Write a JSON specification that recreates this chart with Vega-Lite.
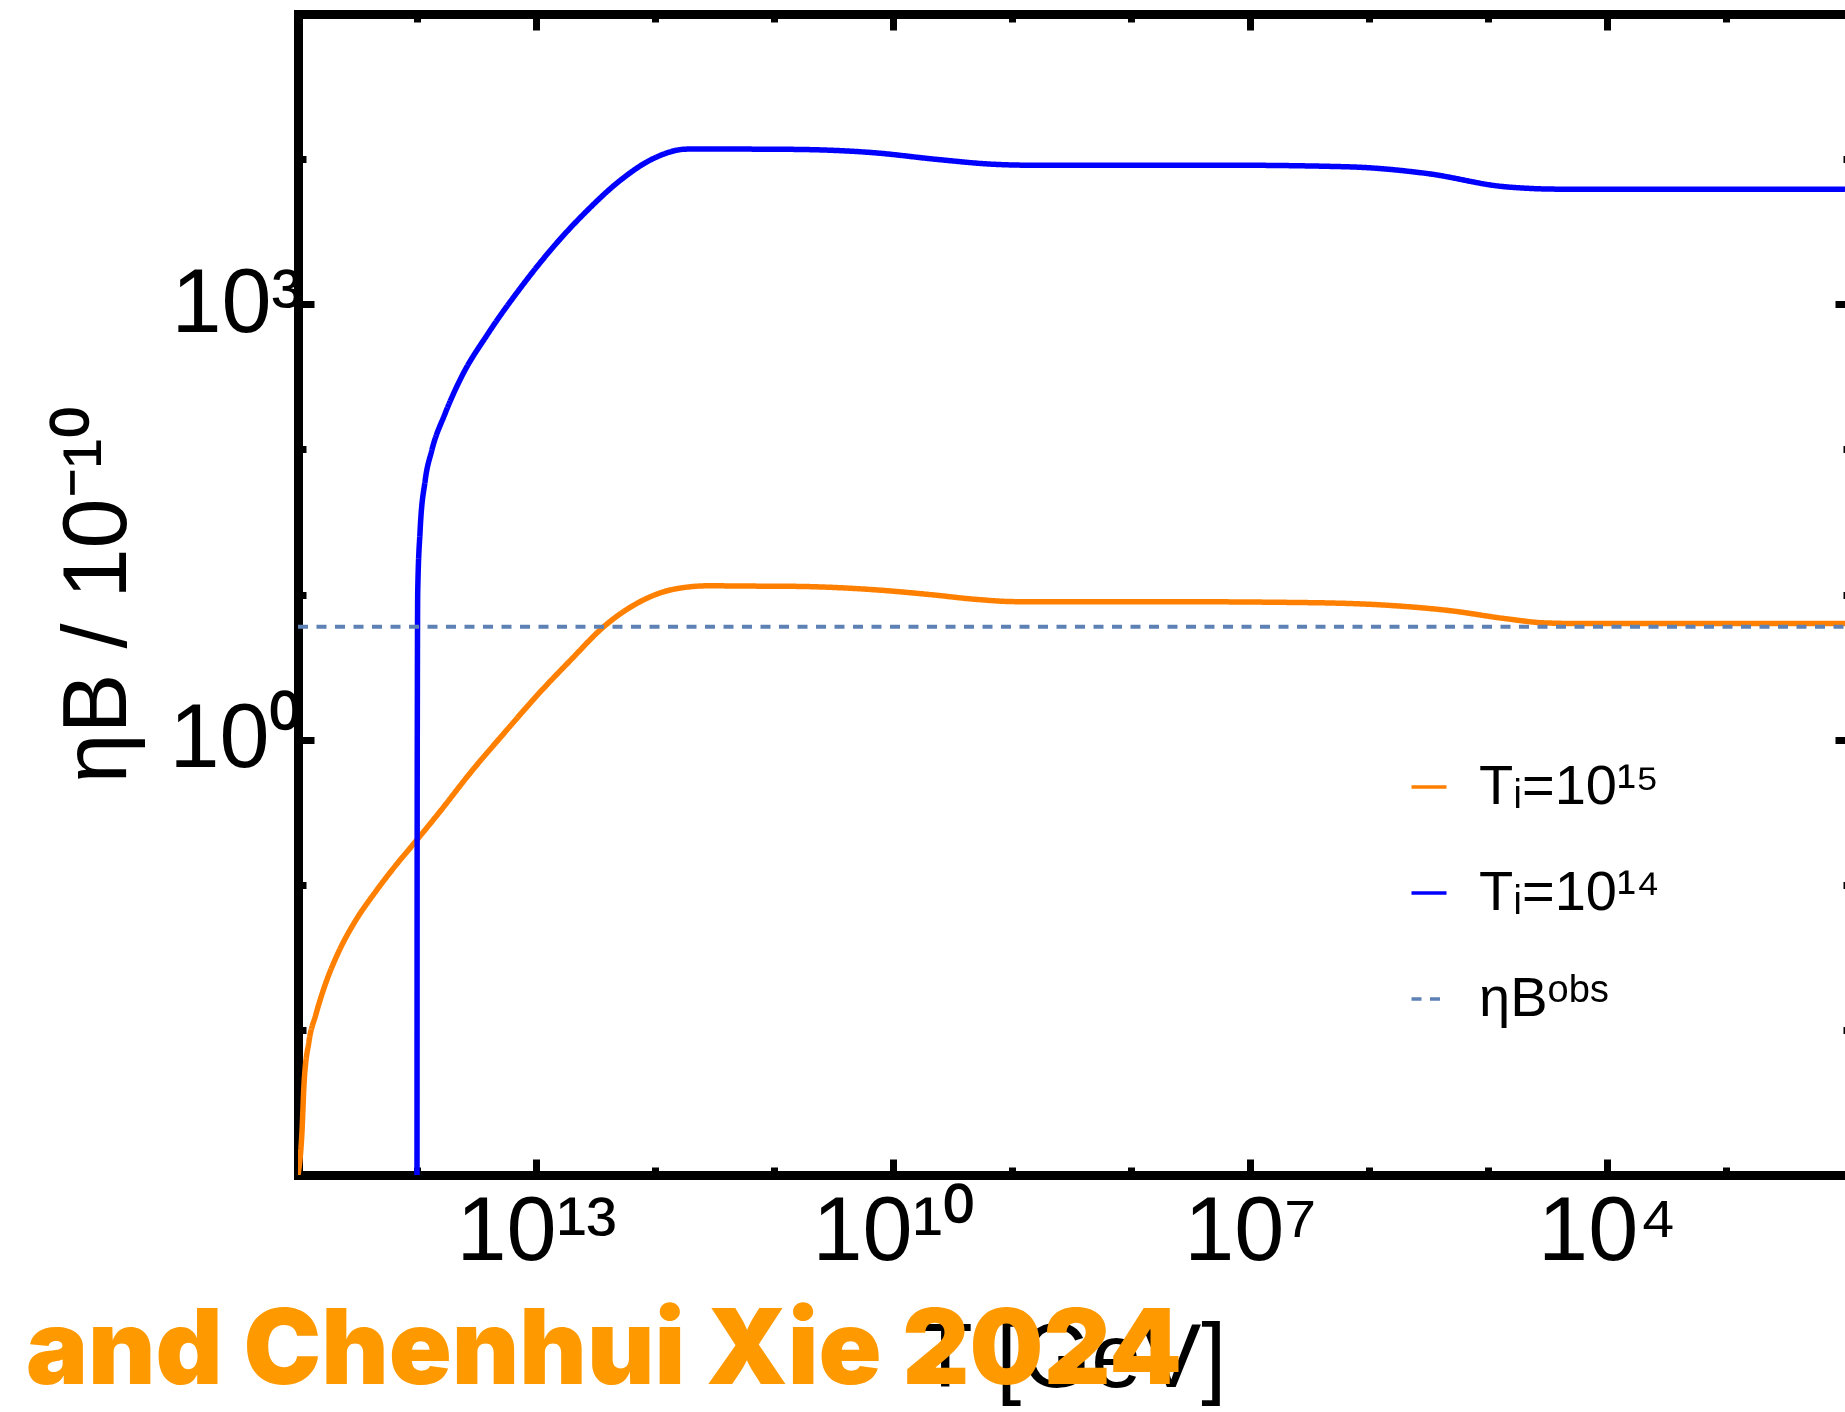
{
  "$schema": "https://vega.github.io/schema/vega-lite/v6.json",
  "width": 1547,
  "height": 1161,
  "autosize": {"type": "none"},
  "padding": {"left": 298, "top": 14, "right": 0, "bottom": 237},
  "background": "white",
  "config": {
    "font": "Liberation Sans",
    "view": {"stroke": null},
    "axis": {
      "grid": false,
      "domainColor": "black",
      "domainWidth": 9,
      "domainCap": "square",
      "tickColor": "black",
      "tickWidth": 7,
      "tickCap": "butt",
      "labelColor": "black",
      "titleColor": "black",
      "labelFont": "Liberation Sans",
      "titleFont": "Liberation Sans",
      "labelFontSize": 90,
      "titleFontSize": 90,
      "titleFontWeight": "normal"
    }
  },
  "title": {
    "text": "and Chenhui Xie 2024",
    "orient": "bottom",
    "anchor": "start",
    "frame": "group",
    "font": "Inter",
    "fontSize": 104,
    "fontWeight": 900,
    "color": "#FF9900",
    "baseline": "alphabetic",
    "dx": -272,
    "offset": -20
  },
  "datasets": {
    "curves": [
      {"series": "Tᵢ=10¹⁵", "T": 1e15, "eta": 0.001},
      {"series": "Tᵢ=10¹⁵", "T": 9.23e14, "eta": 0.00209},
      {"series": "Tᵢ=10¹⁵", "T": 8.91e14, "eta": 0.00417},
      {"series": "Tᵢ=10¹⁵", "T": 8.09e14, "eta": 0.00832},
      {"series": "Tᵢ=10¹⁵", "T": 7.11e14, "eta": 0.0126},
      {"series": "Tᵢ=10¹⁵", "T": 5.86e14, "eta": 0.0209},
      {"series": "Tᵢ=10¹⁵", "T": 4.54e14, "eta": 0.0347},
      {"series": "Tᵢ=10¹⁵", "T": 3.30e14, "eta": 0.0562},
      {"series": "Tᵢ=10¹⁵", "T": 2.24e14, "eta": 0.0891},
      {"series": "Tᵢ=10¹⁵", "T": 1.52e14, "eta": 0.135},
      {"series": "Tᵢ=10¹⁵", "T": 1.07e14, "eta": 0.191},
      {"series": "Tᵢ=10¹⁵", "T": 6.62e13, "eta": 0.309},
      {"series": "Tᵢ=10¹⁵", "T": 3.49e13, "eta": 0.603},
      {"series": "Tᵢ=10¹⁵", "T": 1.83e13, "eta": 1.122},
      {"series": "Tᵢ=10¹⁵", "T": 9.66e12, "eta": 2.042},
      {"series": "Tᵢ=10¹⁵", "T": 5.09e12, "eta": 3.548},
      {"series": "Tᵢ=10¹⁵", "T": 2.68e12, "eta": 6.026},
      {"series": "Tᵢ=10¹⁵", "T": 1.41e12, "eta": 8.71},
      {"series": "Tᵢ=10¹⁵", "T": 7.08e11, "eta": 10.84},
      {"series": "Tᵢ=10¹⁵", "T": 3.55e11, "eta": 11.48},
      {"series": "Tᵢ=10¹⁵", "T": 1.69e11, "eta": 11.43},
      {"series": "Tᵢ=10¹⁵", "T": 6.67e10, "eta": 11.38},
      {"series": "Tᵢ=10¹⁵", "T": 1.45e10, "eta": 10.79},
      {"series": "Tᵢ=10¹⁵", "T": 4.95e9, "eta": 10.0},
      {"series": "Tᵢ=10¹⁵", "T": 1.98e9, "eta": 9.25},
      {"series": "Tᵢ=10¹⁵", "T": 9.23e8, "eta": 8.93},
      {"series": "Tᵢ=10¹⁵", "T": 6.86e7, "eta": 8.93},
      {"series": "Tᵢ=10¹⁵", "T": 3.22e6, "eta": 8.79},
      {"series": "Tᵢ=10¹⁵", "T": 7.0e5, "eta": 8.43},
      {"series": "Tᵢ=10¹⁵", "T": 2.06e5, "eta": 7.73},
      {"series": "Tᵢ=10¹⁵", "T": 7.06e4, "eta": 6.81},
      {"series": "Tᵢ=10¹⁵", "T": 3.29e4, "eta": 6.37},
      {"series": "Tᵢ=10¹⁵", "T": 1.53e4, "eta": 6.3},
      {"series": "Tᵢ=10¹⁵", "T": 100, "eta": 6.3},
      {"series": "Tᵢ=10¹⁴", "T": 1e14, "eta": 0.001},
      {"series": "Tᵢ=10¹⁴", "T": 9.977e13, "eta": 0.1},
      {"series": "Tᵢ=10¹⁴", "T": 9.93e13, "eta": 2.0},
      {"series": "Tᵢ=10¹⁴", "T": 9.86e13, "eta": 10.5},
      {"series": "Tᵢ=10¹⁴", "T": 9.42e13, "eta": 27.4},
      {"series": "Tᵢ=10¹⁴", "T": 8.55e13, "eta": 60.5},
      {"series": "Tᵢ=10¹⁴", "T": 7.53e13, "eta": 97.7},
      {"series": "Tᵢ=10¹⁴", "T": 5.82e13, "eta": 175.8},
      {"series": "Tᵢ=10¹⁴", "T": 4.26e13, "eta": 311.9},
      {"series": "Tᵢ=10¹⁴", "T": 2.53e13, "eta": 628},
      {"series": "Tᵢ=10¹⁴", "T": 1.34e13, "eta": 1306},
      {"series": "Tᵢ=10¹⁴", "T": 6.97e12, "eta": 2547},
      {"series": "Tᵢ=10¹⁴", "T": 3.69e12, "eta": 4446},
      {"series": "Tᵢ=10¹⁴", "T": 1.95e12, "eta": 7161},
      {"series": "Tᵢ=10¹⁴", "T": 1.016e12, "eta": 10160},
      {"series": "Tᵢ=10¹⁴", "T": 5.38e11, "eta": 11720},
      {"series": "Tᵢ=10¹⁴", "T": 1.69e11, "eta": 11720},
      {"series": "Tᵢ=10¹⁴", "T": 6.67e10, "eta": 11670},
      {"series": "Tᵢ=10¹⁴", "T": 1.45e10, "eta": 11070},
      {"series": "Tᵢ=10¹⁴", "T": 4.26e9, "eta": 9954},
      {"series": "Tᵢ=10¹⁴", "T": 1.46e9, "eta": 9226},
      {"series": "Tᵢ=10¹⁴", "T": 6.79e8, "eta": 9078},
      {"series": "Tᵢ=10¹⁴", "T": 1.49e7, "eta": 9078},
      {"series": "Tᵢ=10¹⁴", "T": 1.5e6, "eta": 8851},
      {"series": "Tᵢ=10¹⁴", "T": 3.26e5, "eta": 7962},
      {"series": "Tᵢ=10¹⁴", "T": 7.06e4, "eta": 6442},
      {"series": "Tᵢ=10¹⁴", "T": 2.42e4, "eta": 6209},
      {"series": "Tᵢ=10¹⁴", "T": 100, "eta": 6209}
    ],
    "obs": [
      {"series": "ηBᵒᵇˢ", "T": 1e15, "eta": 6.0},
      {"series": "ηBᵒᵇˢ", "T": 100, "eta": 6.0}
    ]
  },
  "layer": [
    {
      "data": {"name": "curves"},
      "mark": {"type": "line", "strokeWidth": 5.5, "clip": true, "interpolate": "monotone"},
      "encoding": {
        "x": {
          "field": "T", "type": "quantitative",
          "scale": {"type": "log", "domain": [108, 1e15], "reverse": true},
          "axis": {
            "orient": "bottom",
            "title": "T [GeV]",
            "titlePadding": 30,
            "values": [1e3, 1e4, 1e5, 1e6, 1e7, 1e8, 1e9, 1e10, 1e11, 1e12, 1e13, 1e14, 1e15],
            "labelExpr": "round(log(datum.value)/LN10) == 13 ? '10¹³' : round(log(datum.value)/LN10) == 10 ? '10¹⁰' : round(log(datum.value)/LN10) == 7 ? '10⁷' : round(log(datum.value)/LN10) == 4 ? '10⁴' : ''",
            "labelPadding": 29,
            "labelFlush": false,
            "labelOverlap": false,
            "tickSize": {"condition": {"test": "round(log(datum.value)/LN10) % 3 == 1", "value": -16}, "value": -8}
          }
        },
        "y": {
          "field": "eta", "type": "quantitative",
          "scale": {"type": "log", "domain": [0.001, 100000]},
          "axis": {
            "orient": "left",
            "title": "ηB / 10⁻¹⁰",
            "titlePadding": 24,
            "values": [0.001, 0.01, 0.1, 1, 10, 100, 1000, 10000, 100000],
            "labelExpr": "round(log(datum.value)/LN10) == 0 ? '10⁰' : round(log(datum.value)/LN10) == 3 ? '10³' : ''",
            "labelPadding": 13,
            "labelFlush": false,
            "labelOverlap": false,
            "tickSize": {"condition": {"test": "abs(round(log(datum.value)/LN10)) % 3 == 0", "value": -16}, "value": -8}
          }
        },
        "color": {
          "field": "series", "type": "nominal",
          "scale": {"domain": ["Tᵢ=10¹⁵", "Tᵢ=10¹⁴", "ηBᵒᵇˢ"], "range": ["#FF8000", "#0000FF", "#5E81B5"]},
          "legend": {
            "title": null,
            "orient": "none",
            "legendX": 1103,
            "legendY": 745,
            "direction": "vertical",
            "symbolType": "stroke",
            "symbolSize": 1225,
            "symbolStrokeWidth": 3.5,
            "labelFont": "Liberation Sans",
            "labelFontSize": 56,
            "labelColor": "black",
            "labelLimit": 800,
            "labelOffset": 22,
            "rowPadding": 50,
            "padding": 0
          }
        },
        "strokeDash": {
          "field": "series", "type": "nominal",
          "scale": {"domain": ["Tᵢ=10¹⁵", "Tᵢ=10¹⁴", "ηBᵒᵇˢ"], "range": [[1, 0], [1, 0], [10, 8.5]]},
          "legend": null
        }
      }
    },
    {
      "data": {"name": "obs"},
      "mark": {"type": "line", "strokeWidth": 4, "clip": true},
      "encoding": {
        "x": {
          "field": "T", "type": "quantitative",
          "axis": {
            "orient": "top",
            "title": null,
            "labels": false,
            "values": [1e3, 1e4, 1e5, 1e6, 1e7, 1e8, 1e9, 1e10, 1e11, 1e12, 1e13, 1e14, 1e15],
            "tickSize": {"condition": {"test": "round(log(datum.value)/LN10) % 3 == 1", "value": -16}, "value": -8}
          }
        },
        "y": {
          "field": "eta", "type": "quantitative",
          "axis": {
            "orient": "right",
            "title": null,
            "labels": false,
            "domain": false,
            "offset": 6,
            "values": [0.001, 0.01, 0.1, 1, 10, 100, 1000, 10000, 100000],
            "tickSize": {"condition": {"test": "abs(round(log(datum.value)/LN10)) % 3 == 0", "value": -16}, "value": -8}
          }
        },
        "color": {"field": "series", "type": "nominal"},
        "strokeDash": {"field": "series", "type": "nominal"}
      }
    }
  ],
  "resolve": {"axis": {"x": "independent", "y": "independent"}}
}
